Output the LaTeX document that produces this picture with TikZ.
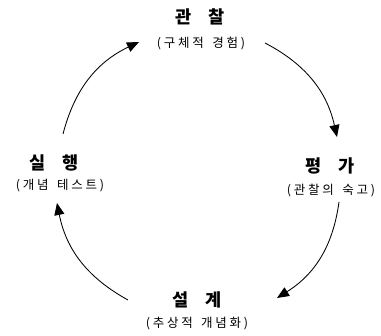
\documentclass[tikz,border=0pt]{standalone}
\usepackage{fontspec}
\newfontfamily\krtitle[LetterSpace=10,WordSpace=3]{Noto Sans CJK KR}
\newfontfamily\krsub[LetterSpace=22,WordSpace=1.5]{Noto Sans CJK KR}
\usetikzlibrary{arrows.meta}
\tikzset{
  ttl/.style={inner sep=0pt, font=\krtitle\bfseries\fontsize{17.5}{19}\selectfont},
  sub/.style={inner sep=0pt, font=\krsub\fontsize{12.5}{14}\selectfont},
  cyc/.style={draw=black, line width=0.85pt, -{Triangle[length=12pt,width=10pt]}, bend left=25}
}
\begin{document}
\begin{tikzpicture}[x=1pt,y=1pt]
\useasboundingbox (0,0) rectangle (381,336);
% labels
\node[ttl] (t1) at (200,319) {관 찰};
\node[sub] (s1) at (201,292) {(구체적 경험)};
\node[ttl] (t2) at (330,170) {평 가};
\node[sub] (s2) at (331,145) {(관찰의 숙고)};
\node[ttl] (t3) at (197,36) {설 계};
\node[sub] (s3) at (197,12) {(추상적 개념화)};
\node[ttl] (t4) at (54,173) {실 행};
\node[sub] (s4) at (60,150) {(개념 테스트)};
% arc end points
\coordinate (a1s) at (63,202);
\coordinate (a1e) at (139,294);
\coordinate (a2s) at (265,293);
\coordinate (a2e) at (337,199);
\coordinate (a3s) at (339,134);
\coordinate (a3e) at (277,38);
\coordinate (a4s) at (128,36);
\coordinate (a4e) at (57,133);
\draw[cyc] (a1s) to (a1e);
\draw[cyc] (a2s) to (a2e);
\draw[cyc] (a3s) to (a3e);
\draw[cyc] (a4s) to (a4e);
\end{tikzpicture}
\end{document}
